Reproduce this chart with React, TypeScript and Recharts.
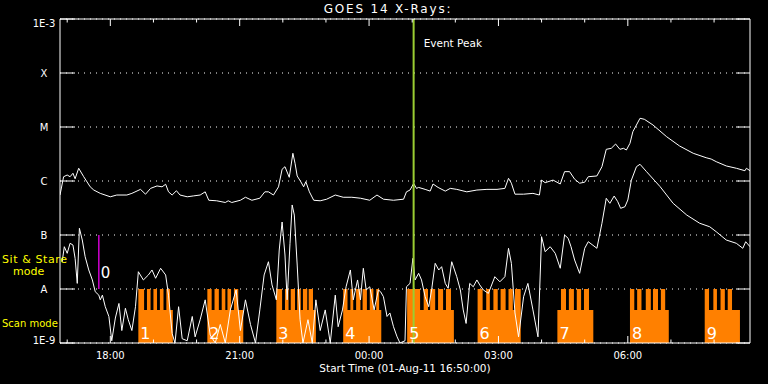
import React from 'react';
import { ComposedChart, Line, Area, XAxis, YAxis, CartesianGrid, ReferenceLine, ReferenceDot } from 'recharts';

const FONT = '"DejaVu Sans", sans-serif';

// x = minutes after the start time, 01-Aug-11 16:50 UT
const hourTicks = [10, 70, 130, 190, 250, 310, 370, 430, 490, 550, 610, 670, 730, 790, 850, 910];
const majorTicks = [70, 250, 430, 610, 790];
const timeLabels = ['18:00', '21:00', '00:00', '03:00', '06:00'];

const yTicks = [1e-9, 1e-8, 1e-7, 1e-6, 1e-5, 1e-4, 1e-3];
const yLabels = ['1E-9', 'A', 'B', 'C', 'M', 'X', '1E-3'];

// GOES 1-8 A channel, [minute, flux in 1e-6 W/m2]
const longFlux: [number, number][] = [
  [0, 0.55], [5, 1.2], [10, 1.29], [14, 1.2], [18, 1.39], [21, 1.1], [26, 1.72], [33, 1.2], [42, 0.78], [47, 0.68],
  [56, 0.59], [70, 0.51], [79, 0.55], [93, 0.55], [100, 0.59], [112, 0.7], [119, 0.57], [126, 0.73], [135, 0.81],
  [142, 0.78], [147, 0.87], [151, 0.63], [156, 0.55], [162, 0.66], [167, 0.55], [177, 0.51], [186, 0.53], [195, 0.55],
  [202, 0.63], [207, 0.44], [218, 0.43], [230, 0.4], [234, 0.43], [239, 0.4], [251, 0.44], [258, 0.5], [267, 0.44],
  [278, 0.48], [285, 0.63], [290, 0.63], [297, 0.55], [304, 0.78], [309, 1.65], [313, 1.84], [319, 1.17], [324, 3.26],
  [327, 2.13], [330, 1.24], [335, 0.97], [339, 0.78], [342, 0.97], [347, 0.63], [353, 0.44], [362, 0.43], [371, 0.46],
  [383, 0.55], [394, 0.5], [406, 0.5], [418, 0.48], [431, 0.44], [441, 0.55], [450, 0.46], [464, 0.44], [478, 0.46],
  [482, 0.63], [487, 0.68], [492, 0.9], [496, 0.73], [499, 0.76], [508, 0.7], [515, 0.65], [519, 0.88], [526, 0.76],
  [536, 0.65], [543, 0.73], [552, 0.7], [566, 0.63], [580, 0.68], [594, 0.7], [608, 0.7], [619, 0.73], [624, 1.12],
  [628, 0.91], [633, 0.57], [645, 0.57], [658, 0.59], [667, 0.55], [670, 1.04], [675, 0.93], [686, 1.04], [696, 0.88],
  [702, 1.49], [709, 1.49], [716, 1.08], [723, 0.91], [730, 0.95], [735, 1.2], [747, 1.24], [754, 1.84], [760, 3.86],
  [767, 4.03], [773, 4.84], [779, 3.86], [784, 4.03], [788, 3.75], [793, 4.99], [797, 8.19], [807, 14.5], [813, 13.9],
  [825, 10.9], [844, 6.61], [862, 4.45], [881, 3.26], [899, 2.7], [906, 2.55], [913, 2.28], [927, 1.9], [941, 1.72],
  [953, 1.55], [955, 1.72], [960, 1.55],
];

// GOES 0.5-4 A channel, [minute, flux in 1e-8 W/m2]
const shortFlux: [number, number][] = [
  [3, 3.2], [6, 6.07], [10, 4.58], [14, 7.02], [18, 6.53], [21, 3.7], [24, 1.27], [27, 13.3], [31, 8.08], [35, 3.96],
  [40, 2.25], [45, 1.47], [49, 0.89], [54, 0.77], [56, 0.63], [59, 0.77], [63, 0.47], [68, 0.31], [72, 0.11], [77, 0.29],
  [82, 0.54], [86, 0.17], [91, 0.44], [95, 0.27], [100, 0.17], [105, 0.47], [109, 2.09], [116, 1.47], [123, 1.82],
  [128, 2.25], [133, 1.58], [140, 2.42], [147, 1.82], [151, 0.77], [156, 0.15], [160, 0.1], [165, 0.47], [170, 0.12],
  [177, 0.11], [184, 0.31], [188, 0.13], [195, 0.27], [202, 0.63], [209, 0.14], [216, 0.1], [223, 0.22], [230, 0.1],
  [237, 0.41], [245, 0.96], [251, 0.17], [258, 0.63], [265, 0.22], [272, 0.1], [278, 0.41], [284, 1.82], [290, 3.2],
  [295, 1.19], [301, 0.63], [305, 5.27], [309, 17.4], [313, 4.26], [316, 0.63], [320, 7.02], [323, 36], [326, 23.4],
  [330, 2.78], [334, 0.27], [338, 0.1], [345, 0.27], [351, 0.1], [356, 0.63], [362, 0.17], [369, 0.41], [376, 0.1],
  [383, 0.77], [387, 0.2], [393, 0.41], [398, 1.1], [404, 2.25], [408, 0.63], [414, 1.47], [418, 0.63], [422, 2.42],
  [426, 0.96], [431, 1.1], [437, 0.41], [443, 0.96], [446, 0.89], [450, 0.72], [455, 0.31], [459, 0.36], [464, 0.2],
  [469, 0.13], [473, 0.1], [480, 0.11], [482, 1.1], [487, 1.27], [491, 3.7], [494, 1.47], [499, 1.95], [503, 1.47],
  [508, 0.72], [513, 0.47], [517, 0.96], [522, 2.99], [527, 2.25], [531, 2.59], [536, 1.27], [540, 1.03], [545, 3.2],
  [552, 1.69], [557, 0.96], [561, 0.41], [565, 0.23], [570, 1.27], [575, 1.1], [580, 1.47], [584, 1.19], [589, 0.96],
  [596, 0.83], [605, 1.69], [612, 1.36], [619, 1.69], [624, 5.67], [628, 2.99], [633, 0.36], [638, 0.13], [645, 0.72],
  [651, 1.27], [658, 0.41], [665, 0.13], [670, 9.31], [675, 4.91], [682, 6.07], [689, 4.58], [696, 2.42], [702, 10],
  [707, 8.69], [711, 6.07], [716, 3.44], [723, 1.95], [730, 5.67], [735, 7.51], [747, 5.67], [754, 16.5], [760, 47.8],
  [765, 38.6], [771, 52.7], [776, 41.4], [780, 31.2], [786, 33.4], [790, 44.5], [795, 104], [802, 184], [807, 204],
  [816, 149], [835, 78.4], [853, 38.6], [872, 23.4], [890, 16.5], [904, 14.2], [913, 11.5], [927, 8.08], [941, 7.02],
  [950, 5.67], [954, 7.51], [960, 6.07],
];

// observing windows (minutes): scan mode blocks and the sit & stare pointings inside them
const scanWindows: [number, number][] = [
  [109, 157], [205, 255], [301, 356], [394, 447], [483, 548], [581, 641], [692, 742], [793, 847], [897, 946],
];
const stareWindows: [number, number][] = [
  [109, 117], [121, 126], [130, 135], [139, 144], [148, 153],
  [205, 211], [215, 221], [225, 230], [233, 238], [242, 248],
  [301, 309], [313, 318], [321, 327], [330, 335], [338, 344], [346, 352],
  [394, 400], [404, 408], [412, 418], [421, 427], [431, 436], [440, 444],
  [483, 501], [506, 512], [515, 522], [526, 533], [537, 544],
  [581, 588], [593, 598], [603, 609], [613, 620], [624, 630], [633, 641],
  [697, 704], [708, 715], [719, 725], [729, 736],
  [793, 799], [803, 809], [815, 822], [825, 832], [836, 842],
  [897, 903], [909, 914], [919, 925], [929, 935],
];
const STARE = 1e-8;
const SCAN = 4.1e-9;
const OFF = 1e-9;

const eventPeak = 492;
const pointing0 = 54;

const longData = longFlux.map(([t, v]) => ({ t, v: v * 1e-6 }));
const shortData = shortFlux.map(([t, v]) => ({ t, v: v * 1e-8 }));

const inside = (w: [number, number][], t: number) => w.some(([a, b]) => t >= a && t < b);
const modeData = Array.from(new Set([0, 960, ...scanWindows.flat(), ...stareWindows.flat()]))
  .sort((a, b) => a - b)
  .map((t) => ({ t, v: inside(stareWindows, t) ? STARE : inside(scanWindows, t) ? SCAN : OFF }));

const txt = { fill: '#fff', fontFamily: FONT };
const yellow = { fill: '#ffff00', fontFamily: FONT, fontSize: 11 };

const BottomTick = (p: any) => {
  const i = majorTicks.indexOf(p.payload.value);
  return (
    <g>
      <line x1={p.x} x2={p.x} y1={p.y} y2={p.y - (i >= 0 ? 7 : 3.5)} stroke="#fff" />
      {i >= 0 && (
        <text x={p.x} y={p.y + 16} textAnchor="middle" fontSize={10} {...txt}>{timeLabels[i]}</text>
      )}
    </g>
  );
};

const TopTick = (p: any) => {
  const major = majorTicks.includes(p.payload.value);
  return <line x1={p.x} x2={p.x} y1={p.y} y2={p.y + (major ? 7 : 3.5)} stroke="#fff" />;
};

const LeftTick = (p: any) => {
  const i = yTicks.indexOf(p.payload.value);
  const dy = i === 0 ? 0.5 : i === yTicks.length - 1 ? 7.5 : 3.7;
  return (
    <g>
      <line x1={p.x} x2={p.x + 15} y1={p.y} y2={p.y} stroke="#fff" />
      <text x={p.x - 16} y={p.y + dy} textAnchor="middle" fontSize={10} {...txt}>{yLabels[i]}</text>
    </g>
  );
};

const RightTick = (p: any) => <line x1={p.x - 14} x2={p.x} y1={p.y} y2={p.y} stroke="#fff" />;

export default function App() {
  return (
    <div style={{ position: 'absolute', left: 0, top: 0, width: 768, height: 384, background: '#000' }}>
      <style>{'body{margin:0;background:#000}'}</style>
      <ComposedChart width={768} height={384} margin={{ top: 0, right: 0, bottom: 0, left: 0 }}>
        <CartesianGrid horizontal vertical={false} stroke="#fff" strokeDasharray="1 5" />
        <XAxis type="number" dataKey="t" domain={[0, 960]} ticks={hourTicks} interval={0} height={41}
          allowDataOverflow tickSize={0} tickMargin={0} tickLine={false} tick={BottomTick} axisLine={{ stroke: '#fff' }} />
        <XAxis xAxisId="top" orientation="top" type="number" dataKey="t" domain={[0, 960]} ticks={hourTicks}
          interval={0} height={19} allowDataOverflow tickSize={0} tickMargin={0} tickLine={false} tick={TopTick}
          axisLine={{ stroke: '#fff' }} />
        <YAxis type="number" scale="log" domain={[1e-9, 1e-3]} ticks={yTicks} interval={0} width={60} allowDataOverflow
          tickSize={0} tickMargin={0} tickLine={false} tick={LeftTick} axisLine={{ stroke: '#fff' }} />
        <YAxis yAxisId="r" orientation="right" type="number" scale="log" domain={[1e-9, 1e-3]} ticks={yTicks}
          interval={0} width={18} allowDataOverflow tickSize={0} tickMargin={0} tickLine={false} tick={RightTick}
          axisLine={{ stroke: '#fff' }} />
        <Area data={modeData} dataKey="v" type="stepAfter" stroke="none" fill="#ff8000" fillOpacity={1}
          isAnimationActive={false} />
        <Line data={shortData} dataKey="v" type="linear" stroke="#fff" strokeWidth={1} dot={false}
          isAnimationActive={false} />
        <Line data={longData} dataKey="v" type="linear" stroke="#fff" strokeWidth={1} dot={false}
          isAnimationActive={false} />
        {scanWindows.map(([a], i) => (
          <ReferenceDot key={i} x={a} y={OFF} r={0} fill="none" stroke="none"
            label={(p: any) => (
              <text x={p.viewBox.x + 2} y={p.viewBox.y - 4} fontSize={16} {...txt}>{i + 1}</text>
            )} />
        ))}
        <ReferenceLine segment={[{ x: pointing0, y: 1e-7 }, { x: pointing0, y: 1e-8 }]} stroke="#d000d0" strokeWidth={1.5}
          label={(p: any) => (
            <text x={p.viewBox.x + 2} y={p.viewBox.y + 43} fontSize={15} {...txt}>0</text>
          )} />
        <ReferenceLine x={eventPeak} stroke="#9acd32" strokeWidth={2}
          label={(p: any) => (
            <text x={p.viewBox.x + 10} y={p.viewBox.y + 28} fontSize={10.5} {...txt}>Event Peak</text>
          )} />
      </ComposedChart>
      <svg width={768} height={384} style={{ position: 'absolute', left: 0, top: 0, pointerEvents: 'none' }}>
        <text x={388} y={13} textAnchor="middle" fontSize={12} letterSpacing={1.8} {...txt}>GOES 14 X-Rays:</text>
        <text x={405} y={372} textAnchor="middle" fontSize={10.5} {...txt}>Start Time (01-Aug-11 16:50:00)</text>
        <text x={2} y={263} letterSpacing={0.6} {...yellow}>Sit &amp; Stare</text>
        <text x={13} y={275} {...yellow}>mode</text>
        <text x={2} y={327} fontSize={10} fill="#ffff00" fontFamily={FONT}>Scan mode</text>
      </svg>
    </div>
  );
}
